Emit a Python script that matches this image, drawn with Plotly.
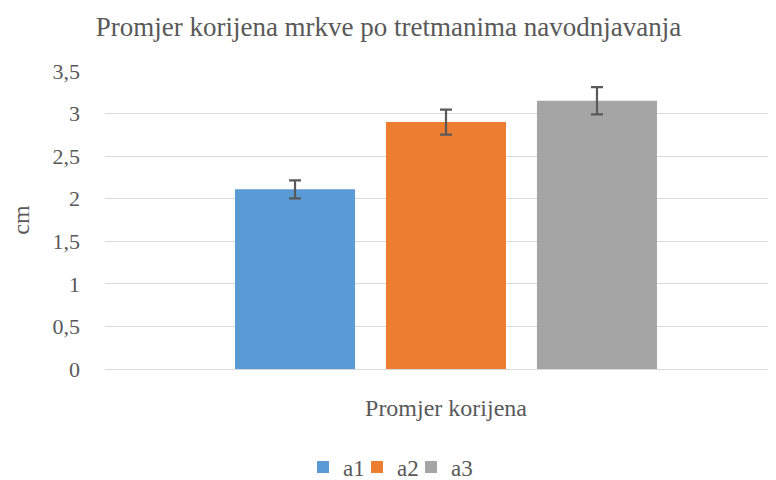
import plotly.graph_objects as go

categories = ["Promjer korijena"]
series_names = ["a1", "a2", "a3"]
values = [2.11, 2.90, 3.15]
errors = [0.105, 0.147, 0.16]
colors = ["#5b9bd5", "#ed7d31", "#a5a5a5"]
y_ticks = [0, 0.5, 1, 1.5, 2, 2.5, 3, 3.5]
y_tick_labels = ["0", "0,5", "1", "1,5", "2", "2,5", "3", "3,5"]

FONT = "Times New Roman, Liberation Serif, serif"
GREY = "#595959"
W, H = 768, 472
legend_ids = ["legend", "legend2", "legend3"]
legend_left = [295, 349, 403]

fig = go.Figure()
for name, v, e, c, lid in zip(series_names, values, errors, colors, legend_ids):
    fig.add_trace(go.Bar(
        name=name, x=categories, y=[v], marker_color=c, marker_line_width=0,
        legend=lid,
        error_y=dict(type="data", array=[e], visible=True, color=GREY, thickness=2.2, width=6),
    ))

legend_style = {}
for lid, lx in zip(legend_ids, legend_left):
    legend_style[lid] = dict(orientation="h", x=lx / W, xref="container", xanchor="left",
                             y=1 - 459 / H, yref="container", yanchor="middle",
                             font=dict(family=FONT, size=23, color=GREY), itemwidth=30,
                             bgcolor="rgba(0,0,0,0)")

fig.update_layout(
    width=W, height=H,
    margin=dict(l=97, r=0, t=63, b=111, autoexpand=False),
    paper_bgcolor="white", plot_bgcolor="white",
    barmode="group", bargap=0.325, bargroupgap=0.205,
    font=dict(family=FONT, color=GREY, size=22),
    title=dict(text="Promjer korijena mrkve po tretmanima navodnjavanja",
               font=dict(family=FONT, size=27, color=GREY),
               x=0.4954, xref="container", xanchor="center",
               y=1 - 19 / H, yref="container", yanchor="middle"),
    showlegend=True,
    **legend_style,
)
fig.update_xaxes(range=[-0.5082, 0.4918], showgrid=False, showline=False, zeroline=False,
                 ticks="", tickfont=dict(family=FONT, size=24, color=GREY),
                 ticklabelstandoff=22, automargin=False)
fig.update_yaxes(range=[0, 3.5], tickvals=y_ticks, ticktext=y_tick_labels,
                 showgrid=True, gridcolor="#d9d9d9", gridwidth=1,
                 zeroline=True, zerolinecolor="#d9d9d9", zerolinewidth=1,
                 showline=False, ticks="", ticklabelstandoff=24, automargin=False,
                 tickfont=dict(family=FONT, size=22, color=GREY),
                 title=dict(text="cm", font=dict(family=FONT, size=24, color=GREY), standoff=20))

fig.write_html("out.html")
